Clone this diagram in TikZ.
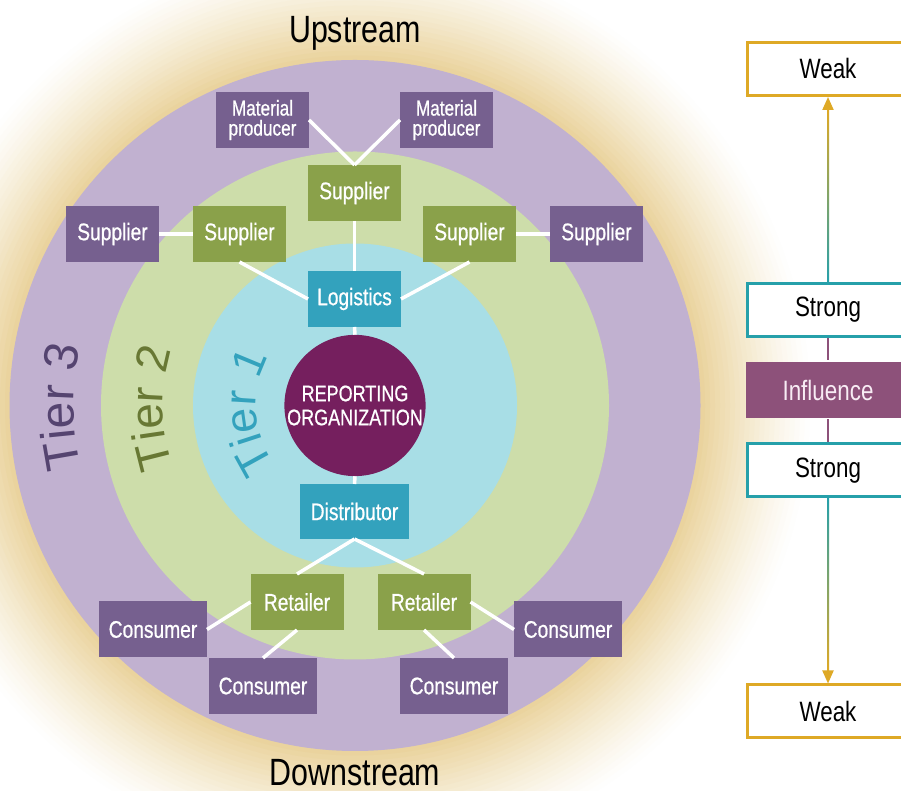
\documentclass[tikz,border=0pt]{standalone}
\usepackage{fontspec}
\setmainfont{Liberation Sans}[FakeStretch=0.8]
\newfontfamily\boxfont{Liberation Sans}[FakeStretch=0.8, FakeBold=0.7]
\newfontfamily\tierfont{Liberation Sans}
\usetikzlibrary{arrows.meta,calc,decorations.text}
\definecolor{tanc}{RGB}{233,209,152}
\definecolor{ring3}{RGB}{193,177,208}
\definecolor{ring2}{RGB}{205,221,170}
\definecolor{ring1}{RGB}{168,222,230}
\definecolor{core}{RGB}{117,31,94}
\definecolor{boxp}{RGB}{118,96,143}
\definecolor{boxg}{RGB}{138,161,74}
\definecolor{boxt}{RGB}{51,162,189}
\definecolor{infl}{RGB}{141,81,122}
\definecolor{gold}{RGB}{222,169,38}
\definecolor{tealb}{RGB}{38,160,170}
\definecolor{tthree}{RGB}{85,68,112}
\definecolor{ttwo}{RGB}{104,120,52}
\definecolor{tone}{RGB}{51,162,189}
\begin{document}
\begin{tikzpicture}[x=1pt,y=1pt,
  bx/.style={minimum width=93pt, minimum height=56pt, inner sep=0pt, outer sep=0pt, text=white, font=\boxfont\fontsize{24}{24}\selectfont, align=center},
  pbox/.style={bx, fill=boxp},
  gbox/.style={bx, fill=boxg},
  tbox/.style={bx, fill=boxt},
  mbox/.style={pbox, font=\boxfont\fontsize{21.5}{20}\selectfont},
  cbox/.style={pbox, minimum width=108pt},
  wl/.style={white, line width=3.5pt},
  scl/.style={minimum width=161pt, minimum height=53pt, inner sep=0pt, line width=3pt, fill=white, font=\fontsize{28}{28}\selectfont},
  weakbox/.style={scl, draw=gold},
  strongbox/.style={scl, draw=tealb},
  stream/.style={font=\fontsize{38}{38}\selectfont, inner sep=0pt, anchor=base}
]
\useasboundingbox (0,0) rectangle (901,791);
\clip (0,0) rectangle (901,791);
\fill[white] (0,0) rectangle (901,791);
\coordinate (c) at (355,385.5);
\foreach \r in {460,455,...,345} {
  \pgfmathsetmacro\p{100*((460-\r)/115)^1.25}
  \fill[tanc!\p!white] (c) circle (\r);
}
\fill[ring3] (c) circle (345.5);
\fill[ring2] (c) circle (254);
\fill[ring1] (c) circle (162);

% nodes
\node[circle, fill=core, minimum size=138pt, inner sep=0pt, text=white, align=center, font=\boxfont\fontsize{22.5}{24}\selectfont] (rep) at (c) {REPORTING\\ORGANIZATION};
\node[tbox] (log) at (354.5,492) {Logistics};
\node[tbox, minimum width=109pt, minimum height=55pt] (dist) at (354.5,279.5) {Distributor};
\node[gbox] (supT) at (354.5,598) {Supplier};
\node[gbox] (supLG) at (239.5,557) {Supplier};
\node[gbox] (supRG) at (469.5,557) {Supplier};
\node[pbox] (supLP) at (112.5,557) {Supplier};
\node[pbox] (supRP) at (596.5,557) {Supplier};
\node[mbox] (matL) at (262.5,671) {Material\\producer};
\node[mbox] (matR) at (446.5,671) {Material\\producer};
\node[gbox] (retL) at (297,189) {Retailer};
\node[gbox] (retR) at (424,189) {Retailer};
\node[cbox] (conL) at (153,161.5) {Consumer};
\node[cbox] (conR) at (568,161.5) {Consumer};
\node[cbox] (conBL) at (263,105) {Consumer};
\node[cbox] (conBR) at (454,105) {Consumer};

% connectors
\draw[wl] (matL.east) -- (supT.north);
\draw[wl] (matR.west) -- (supT.north);
\draw[wl] (supT.south) -- (log.north);
\draw[wl] (supLP.east) -- (supLG.west);
\draw[wl] (supRG.east) -- (supRP.west);
\draw[wl] (supLG.south) -- (log.west);
\draw[wl] (supRG.south) -- (log.east);
\draw[wl] (log.south) -- (rep.north);
\draw[wl] (rep.south) -- (dist.north);
\draw[wl] (dist.south) -- (retL.north);
\draw[wl] (dist.south) -- (retR.north);
\draw[wl] (retL.west) -- (conL.east);
\draw[wl] (retL.south) -- (conBL.north);
\draw[wl] (retR.east) -- (conR.west);
\draw[wl] (retR.south) -- (conBR.north);

% tier labels (set along arcs around the centre)
\path[decorate, decoration={text along path, text align=center, text color=tthree,
  text={|\tierfont\fontsize{48}{48}\selectfont|Tier 3}}]
  ($(c)+(180.3+30:281)$) arc[start angle=210.3, end angle=150.3, radius=281];
\path[decorate, decoration={text along path, text align=center, text color=ttwo,
  text={|\tierfont\fontsize{46}{46}\selectfont|Tier 2}}]
  ($(c)+(180.8+40:192)$) arc[start angle=220.8, end angle=140.8, radius=192];
\path[decorate, decoration={text along path, text align=center, text color=tone,
  text={|\tierfont\fontsize{45}{45}\selectfont|Tier 1}}]
  ($(c)+(183.6+60:99)$) arc[start angle=243.6, end angle=123.6, radius=99];

% stream labels
\node[stream] (up) at (355,748) {Upstream};
\node[stream] (down) at (355,5) {Downstream};

% influence scale
\node[weakbox] (w1) at (828,722) {Weak};
\node[strongbox] (s1) at (828,481) {Strong};
\node[scl, draw=none, fill=infl, minimum height=56pt, minimum width=164pt, text={rgb,255:red,248;green,236;blue,244}] (inf) at (828,401) {Influence};
\node[strongbox] (s2) at (828,320.5) {Strong};
\node[weakbox] (w2) at (828,79.5) {Weak};

\draw[gold, line width=2pt, -{Triangle[length=13pt,width=11pt]}] (s1.north) -- (w1.south);
\shade[top color=gold, bottom color=tealb] ($(s1.north)+(-1,0)$) rectangle ($(w1.south)+(1,-13)$);
\draw[gold, line width=2pt, -{Triangle[length=13pt,width=11pt]}] (s2.south) -- (w2.north);
\shade[top color=tealb, bottom color=gold] ($(s2.south)+(-1,0)$) rectangle ($(w2.north)+(1,13)$);
\draw[infl, line width=2pt] (s1.south) -- (inf.north);
\draw[infl, line width=2pt] (inf.south) -- (s2.north);
\end{tikzpicture}
\end{document}
